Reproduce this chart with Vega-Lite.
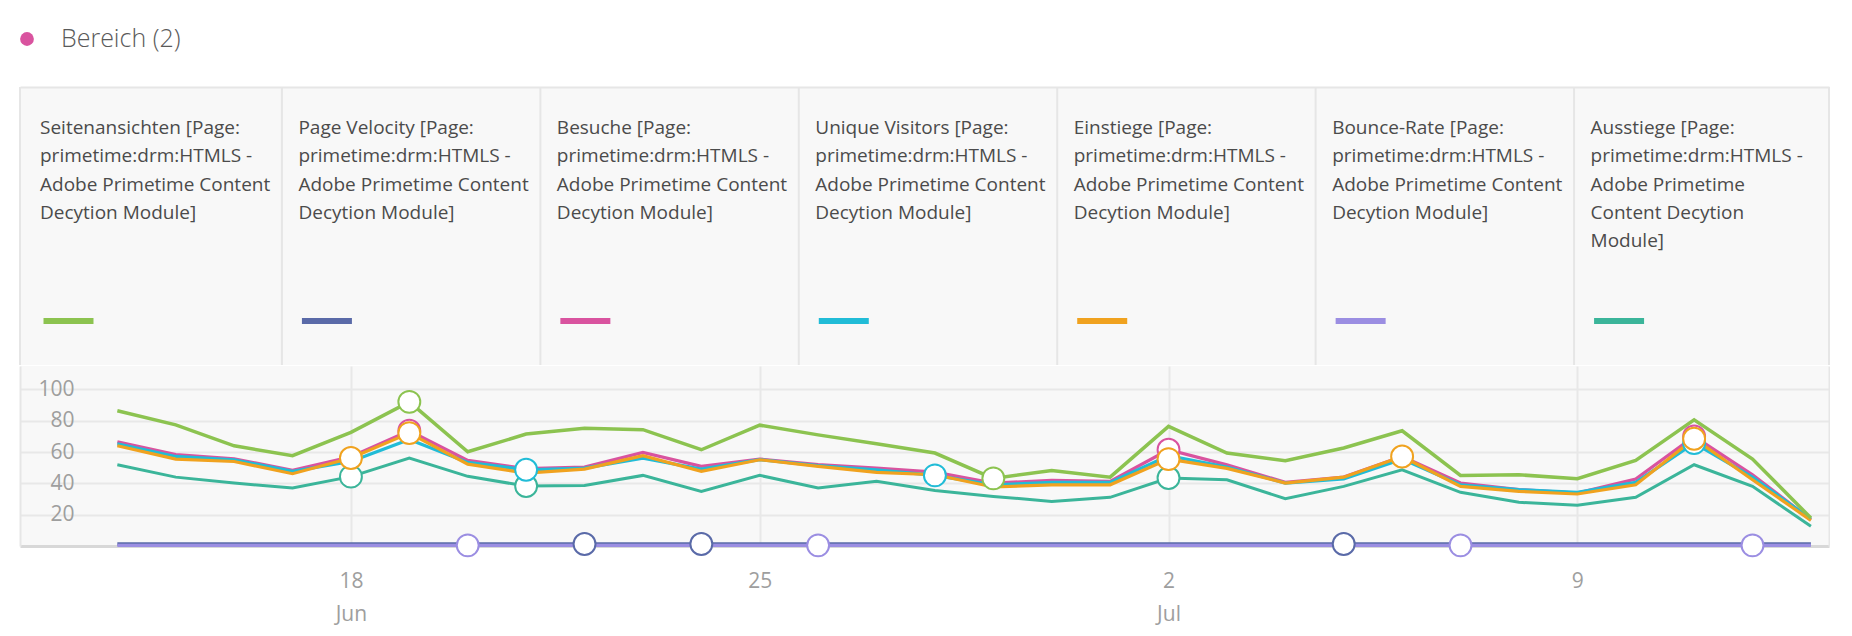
{
  "$schema": "https://vega.github.io/schema/vega-lite/v6.json",
  "background": "white",
  "padding": {"left": 19, "top": 27, "right": 0, "bottom": 6},
  "config": {"font": "Open Sans", "view": {"stroke": null}},
  "spacing": 34,
  "resolve": {"scale": {"color": "independent", "fill": "independent", "stroke": "independent", "strokeWidth": "independent"}},
  "datasets": {
    "segments": [{"segment": "Bereich (2)"}],
    "metrics": [
      {"metric": "Seitenansichten", "label": "Seitenansichten [Page:\nprimetime:drm:HTMLS -\nAdobe Primetime Content\nDecytion Module]"},
      {"metric": "Page Velocity", "label": "Page Velocity [Page:\nprimetime:drm:HTMLS -\nAdobe Primetime Content\nDecytion Module]"},
      {"metric": "Besuche", "label": "Besuche [Page:\nprimetime:drm:HTMLS -\nAdobe Primetime Content\nDecytion Module]"},
      {"metric": "Unique Visitors", "label": "Unique Visitors [Page:\nprimetime:drm:HTMLS -\nAdobe Primetime Content\nDecytion Module]"},
      {"metric": "Einstiege", "label": "Einstiege [Page:\nprimetime:drm:HTMLS -\nAdobe Primetime Content\nDecytion Module]"},
      {"metric": "Bounce-Rate", "label": "Bounce-Rate [Page:\nprimetime:drm:HTMLS -\nAdobe Primetime Content\nDecytion Module]"},
      {"metric": "Ausstiege", "label": "Ausstiege [Page:\nprimetime:drm:HTMLS -\nAdobe Primetime\nContent Decytion\nModule]"}
    ],
    "series": [
      {"date": "2017-06-14", "Seitenansichten": 86.4, "Page Velocity": 1.3, "Besuche": 66.6, "Unique Visitors": 65.3, "Einstiege": 64.0, "Bounce-Rate": 0.4, "Ausstiege": 51.9},
      {"date": "2017-06-15", "Seitenansichten": 77.4, "Page Velocity": 1.3, "Besuche": 58.3, "Unique Visitors": 57.2, "Einstiege": 55.5, "Bounce-Rate": 0.4, "Ausstiege": 44.0},
      {"date": "2017-06-16", "Seitenansichten": 64.0, "Page Velocity": 1.3, "Besuche": 55.7, "Unique Visitors": 55.1, "Einstiege": 54.0, "Bounce-Rate": 0.4, "Ausstiege": 40.2},
      {"date": "2017-06-17", "Seitenansichten": 57.7, "Page Velocity": 1.3, "Besuche": 48.3, "Unique Visitors": 47.7, "Einstiege": 46.2, "Bounce-Rate": 0.4, "Ausstiege": 37.0},
      {"date": "2017-06-18", "Seitenansichten": 72.6, "Page Velocity": 1.3, "Besuche": 57.0, "Unique Visitors": 54.0, "Einstiege": 56.2, "Bounce-Rate": 0.4, "Ausstiege": 44.3},
      {"date": "2017-06-19", "Seitenansichten": 92.1, "Page Velocity": 1.3, "Besuche": 73.6, "Unique Visitors": 68.0, "Einstiege": 72.1, "Bounce-Rate": 0.4, "Ausstiege": 56.2},
      {"date": "2017-06-20", "Seitenansichten": 60.2, "Page Velocity": 1.3, "Besuche": 54.7, "Unique Visitors": 53.4, "Einstiege": 52.3, "Bounce-Rate": 0.4, "Ausstiege": 44.5},
      {"date": "2017-06-21", "Seitenansichten": 71.5, "Page Velocity": 1.3, "Besuche": 49.4, "Unique Visitors": 48.7, "Einstiege": 46.6, "Bounce-Rate": 0.4, "Ausstiege": 38.3},
      {"date": "2017-06-22", "Seitenansichten": 75.3, "Page Velocity": 1.3, "Besuche": 50.4, "Unique Visitors": 49.8, "Einstiege": 49.1, "Bounce-Rate": 0.4, "Ausstiege": 38.7},
      {"date": "2017-06-23", "Seitenansichten": 74.3, "Page Velocity": 1.3, "Besuche": 59.8, "Unique Visitors": 56.2, "Einstiege": 57.7, "Bounce-Rate": 0.4, "Ausstiege": 45.1},
      {"date": "2017-06-24", "Seitenansichten": 61.5, "Page Velocity": 1.3, "Besuche": 50.9, "Unique Visitors": 49.1, "Einstiege": 47.7, "Bounce-Rate": 0.4, "Ausstiege": 34.9},
      {"date": "2017-06-25", "Seitenansichten": 77.2, "Page Velocity": 1.3, "Besuche": 55.5, "Unique Visitors": 55.1, "Einstiege": 55.1, "Bounce-Rate": 0.4, "Ausstiege": 45.1},
      {"date": "2017-06-26", "Seitenansichten": 71.0, "Page Velocity": 1.3, "Besuche": 51.9, "Unique Visitors": 51.3, "Einstiege": 50.9, "Bounce-Rate": 0.4, "Ausstiege": 37.0},
      {"date": "2017-06-27", "Seitenansichten": 65.3, "Page Velocity": 1.3, "Besuche": 49.8, "Unique Visitors": 48.7, "Einstiege": 47.0, "Bounce-Rate": 0.4, "Ausstiege": 41.3},
      {"date": "2017-06-28", "Seitenansichten": 59.4, "Page Velocity": 1.3, "Besuche": 47.2, "Unique Visitors": 45.1, "Einstiege": 45.5, "Bounce-Rate": 0.4, "Ausstiege": 35.5},
      {"date": "2017-06-29", "Seitenansichten": 43.2, "Page Velocity": 1.3, "Besuche": 40.2, "Unique Visitors": 39.1, "Einstiege": 37.7, "Bounce-Rate": 0.4, "Ausstiege": 31.7},
      {"date": "2017-06-30", "Seitenansichten": 48.3, "Page Velocity": 1.3, "Besuche": 41.9, "Unique Visitors": 40.6, "Einstiege": 39.1, "Bounce-Rate": 0.4, "Ausstiege": 28.5},
      {"date": "2017-07-01", "Seitenansichten": 44.0, "Page Velocity": 1.3, "Besuche": 41.3, "Unique Visitors": 40.6, "Einstiege": 39.1, "Bounce-Rate": 0.4, "Ausstiege": 31.1},
      {"date": "2017-07-02", "Seitenansichten": 76.4, "Page Velocity": 1.3, "Besuche": 61.5, "Unique Visitors": 57.7, "Einstiege": 55.5, "Bounce-Rate": 0.4, "Ausstiege": 43.4},
      {"date": "2017-07-03", "Seitenansichten": 59.4, "Page Velocity": 1.3, "Besuche": 51.9, "Unique Visitors": 50.4, "Einstiege": 49.6, "Bounce-Rate": 0.4, "Ausstiege": 42.3},
      {"date": "2017-07-04", "Seitenansichten": 54.5, "Page Velocity": 1.3, "Besuche": 40.6, "Unique Visitors": 40.2, "Einstiege": 40.2, "Bounce-Rate": 0.4, "Ausstiege": 30.2},
      {"date": "2017-07-05", "Seitenansichten": 62.6, "Page Velocity": 1.3, "Besuche": 44.0, "Unique Visitors": 42.8, "Einstiege": 44.0, "Bounce-Rate": 0.4, "Ausstiege": 38.1},
      {"date": "2017-07-06", "Seitenansichten": 73.6, "Page Velocity": 1.3, "Besuche": 57.2, "Unique Visitors": 55.5, "Einstiege": 57.2, "Bounce-Rate": 0.4, "Ausstiege": 48.7},
      {"date": "2017-07-07", "Seitenansichten": 45.1, "Page Velocity": 1.3, "Besuche": 40.2, "Unique Visitors": 39.1, "Einstiege": 38.1, "Bounce-Rate": 0.4, "Ausstiege": 34.3},
      {"date": "2017-07-08", "Seitenansichten": 45.5, "Page Velocity": 1.3, "Besuche": 36.0, "Unique Visitors": 36.0, "Einstiege": 34.9, "Bounce-Rate": 0.4, "Ausstiege": 27.9},
      {"date": "2017-07-09", "Seitenansichten": 43.0, "Page Velocity": 1.3, "Besuche": 33.8, "Unique Visitors": 34.3, "Einstiege": 33.2, "Bounce-Rate": 0.4, "Ausstiege": 26.0},
      {"date": "2017-07-10", "Seitenansichten": 54.7, "Page Velocity": 1.3, "Besuche": 42.8, "Unique Visitors": 40.6, "Einstiege": 39.1, "Bounce-Rate": 0.4, "Ausstiege": 31.1},
      {"date": "2017-07-11", "Seitenansichten": 80.6, "Page Velocity": 1.3, "Besuche": 70.0, "Unique Visitors": 65.7, "Einstiege": 68.5, "Bounce-Rate": 0.4, "Ausstiege": 51.9},
      {"date": "2017-07-12", "Seitenansichten": 55.5, "Page Velocity": 1.3, "Besuche": 45.5, "Unique Visitors": 44.0, "Einstiege": 42.3, "Bounce-Rate": 0.4, "Ausstiege": 38.1},
      {"date": "2017-07-13", "Seitenansichten": 17.9, "Page Velocity": 1.3, "Besuche": 16.8, "Unique Visitors": 17.2, "Einstiege": 16.4, "Bounce-Rate": 0.4, "Ausstiege": 12.6}
    ],
    "markers": [
      {"date": "2017-06-18", "metric": "Ausstiege", "value": 44.3},
      {"date": "2017-06-18", "metric": "Einstiege", "value": 56.2},
      {"date": "2017-06-19", "metric": "Besuche", "value": 73.6},
      {"date": "2017-06-19", "metric": "Einstiege", "value": 72.1},
      {"date": "2017-06-19", "metric": "Seitenansichten", "value": 92.1},
      {"date": "2017-06-20", "metric": "Bounce-Rate", "value": 0.4},
      {"date": "2017-06-21", "metric": "Ausstiege", "value": 38.3},
      {"date": "2017-06-21", "metric": "Unique Visitors", "value": 48.7},
      {"date": "2017-06-22", "metric": "Page Velocity", "value": 1.3},
      {"date": "2017-06-24", "metric": "Page Velocity", "value": 1.3},
      {"date": "2017-06-26", "metric": "Bounce-Rate", "value": 0.4},
      {"date": "2017-06-28", "metric": "Unique Visitors", "value": 45.1},
      {"date": "2017-06-29", "metric": "Seitenansichten", "value": 43.2},
      {"date": "2017-07-02", "metric": "Ausstiege", "value": 43.4},
      {"date": "2017-07-02", "metric": "Besuche", "value": 61.5},
      {"date": "2017-07-02", "metric": "Einstiege", "value": 55.5},
      {"date": "2017-07-05", "metric": "Page Velocity", "value": 1.3},
      {"date": "2017-07-06", "metric": "Einstiege", "value": 57.2},
      {"date": "2017-07-07", "metric": "Bounce-Rate", "value": 0.4},
      {"date": "2017-07-11", "metric": "Unique Visitors", "value": 65.7},
      {"date": "2017-07-11", "metric": "Besuche", "value": 70.0},
      {"date": "2017-07-11", "metric": "Einstiege", "value": 68.5},
      {"date": "2017-07-12", "metric": "Bounce-Rate", "value": 0.4}
    ]
  },
  "vconcat": [
    {
      "width": 300,
      "height": 24,
      "data": {"name": "segments"},
      "layer": [
        {
          "mark": {"type": "circle", "size": 190, "opacity": 1, "xOffset": 7},
          "encoding": {
            "x": {"field": "segment", "type": "nominal", "axis": null, "scale": {"type": "point", "padding": 0, "align": 0}},
            "fill": {"field": "segment", "type": "nominal", "scale": {"domain": ["Bereich (2)"], "range": ["#d9539f"]}, "legend": null}
          }
        },
        {
          "mark": {"type": "text", "align": "left", "baseline": "middle", "dx": 41, "fontSize": 25, "fontWeight": 300, "color": "#5a5a5a"},
          "encoding": {
            "x": {"field": "segment", "type": "nominal", "axis": null},
            "text": {"field": "segment"}
          }
        }
      ]
    },
    {
      "spacing": 0,
      "resolve": {"scale": {"color": "independent", "stroke": "independent"}},
      "vconcat": [
        {
          "width": 1809,
          "height": 278,
          "view": {"fill": "#f8f8f8", "stroke": null},
          "data": {"name": "metrics"},
          "layer": [
            {
              "transform": [{"filter": "datum.metric != 'Seitenansichten'"}],
              "mark": {"type": "rule", "color": "#e6e6e6", "strokeWidth": 2, "xOffset": 3.5},
              "encoding": {
                "x": {"field": "metric", "type": "nominal", "bandPosition": 0,
                      "scale": {"domain": ["Seitenansichten", "Page Velocity", "Besuche", "Unique Visitors", "Einstiege", "Bounce-Rate", "Ausstiege"], "paddingInner": 0, "paddingOuter": 0},
                      "axis": {"orient": "top", "labels": false, "ticks": false, "title": null, "grid": false, "domain": true, "domainColor": "#e6e6e6", "domainWidth": 2}}
              }
            },
            {
              "transform": [{"filter": "datum.metric == 'Seitenansichten'"}],
              "mark": {"type": "rule", "color": "#e6e6e6", "strokeWidth": 2},
              "encoding": {"x": {"field": "metric", "type": "nominal", "bandPosition": 0}}
            },
            {
              "transform": [{"filter": "datum.metric == 'Ausstiege'"}],
              "mark": {"type": "rule", "color": "#e6e6e6", "strokeWidth": 2},
              "encoding": {"x": {"field": "metric", "type": "nominal", "bandPosition": 1}}
            },
            {
              "mark": {"type": "text", "align": "left", "baseline": "alphabetic", "dx": 20, "fontSize": 19, "lineHeight": 28.3, "lineBreak": "\n", "color": "#4b4b4b"},
              "encoding": {
                "x": {"field": "metric", "type": "nominal", "bandPosition": 0},
                "y": {"value": 47},
                "text": {"field": "label"}
              }
            },
            {
              "mark": {"type": "rule", "strokeWidth": 6, "xOffset": 23.5, "x2Offset": 73.5},
              "encoding": {
                "x": {"field": "metric", "type": "nominal", "bandPosition": 0},
                "x2": {"field": "metric", "bandPosition": 0},
                "y": {"value": 234},
                "color": {"field": "metric", "type": "nominal",
                  "scale": {"domain": ["Seitenansichten", "Page Velocity", "Besuche", "Unique Visitors", "Einstiege", "Bounce-Rate", "Ausstiege"], "range": ["#8cc350", "#5a6aa8", "#d9539f", "#21bcd7", "#f0a21f", "#9b8ee2", "#3bb59a"]},
                  "legend": null}
              }
            }
          ]
        },
        {
          "width": 1809,
          "height": 180,
          "view": {"fill": "#f8f8f8", "stroke": null},
          "resolve": {"scale": {"y": "independent"}},
          "layer": [
            {
              "data": {"name": "series"},
              "transform": [{"fold": ["Page Velocity", "Bounce-Rate", "Ausstiege", "Besuche", "Unique Visitors", "Einstiege", "Seitenansichten"], "as": ["metric", "value"]}],
              "mark": {"type": "line", "interpolate": "linear"},
              "encoding": {
                "x": {"field": "date", "type": "temporal",
                  "scale": {"type": "utc", "domain": [{"year": 2017, "month": 6, "date": 12, "hours": 8, "utc": true}, {"year": 2017, "month": 7, "date": 13, "hours": 7, "minutes": 26, "utc": true}]},
                  "axis": {"title": null, "tickCount": {"interval": "week", "step": 1},
                    "labelExpr": "[utcFormat(datum.value, '%-d'), (utcdate(datum.value) <= 7 || datum.index == 0) ? utcFormat(datum.value, '%b') : '']",
                    "labelFontSize": 21, "labelColor": "#9e9e9e", "labelPadding": 24, "labelLineHeight": 33, "labelBaseline": "top", "labelFlush": false,
                    "ticks": false, "domain": true, "domainColor": "#d8d8d8", "domainWidth": 3,
                    "grid": true, "gridColor": "#e8e8e8", "gridWidth": 2}},
                "y": {"field": "value", "type": "quantitative",
                  "scale": {"domain": [0, 115], "nice": false},
                  "axis": {"title": null, "orient": "left", "values": [20, 40, 60, 80, 100], "labelFontSize": 21, "labelColor": "#9e9e9e", "labelPadding": -54, "ticks": false, "tickSize": 0,
                    "domain": true, "domainColor": "#e6e6e6", "domainWidth": 2, "grid": true, "gridColor": "#e8e8e8", "gridWidth": 2}},
                "color": {"field": "metric", "type": "nominal",
                  "scale": {"domain": ["Seitenansichten", "Page Velocity", "Besuche", "Unique Visitors", "Einstiege", "Bounce-Rate", "Ausstiege"], "range": ["#8cc350", "#5a6aa8", "#d9539f", "#21bcd7", "#f0a21f", "#9b8ee2", "#3bb59a"]},
                  "legend": null},
                "strokeWidth": {"field": "metric", "type": "ordinal",
                  "scale": {"domain": ["Seitenansichten", "Page Velocity", "Besuche", "Unique Visitors", "Einstiege", "Bounce-Rate", "Ausstiege"], "range": [3.5, 3, 3.5, 3.5, 4.5, 4, 3.5]},
                  "legend": null}
              }
            },
            {
              "data": {"name": "markers"},
              "mark": {"type": "point", "shape": "circle", "filled": true, "fill": "white", "size": 480, "strokeWidth": 2, "opacity": 1},
              "encoding": {
                "x": {"field": "date", "type": "temporal"},
                "y": {"field": "value", "type": "quantitative",
                  "scale": {"domain": [0, 115], "nice": false},
                  "axis": {"title": null, "orient": "right", "labels": false, "ticks": false, "grid": false, "domain": true, "domainColor": "#e6e6e6", "domainWidth": 2}},
                "stroke": {"field": "metric", "type": "nominal",
                  "scale": {"domain": ["Seitenansichten", "Page Velocity", "Besuche", "Unique Visitors", "Einstiege", "Bounce-Rate", "Ausstiege"], "range": ["#8cc350", "#5a6aa8", "#d9539f", "#21bcd7", "#f0a21f", "#9b8ee2", "#3bb59a"]},
                  "legend": null}
              }
            }
          ]
        }
      ]
    }
  ]
}
